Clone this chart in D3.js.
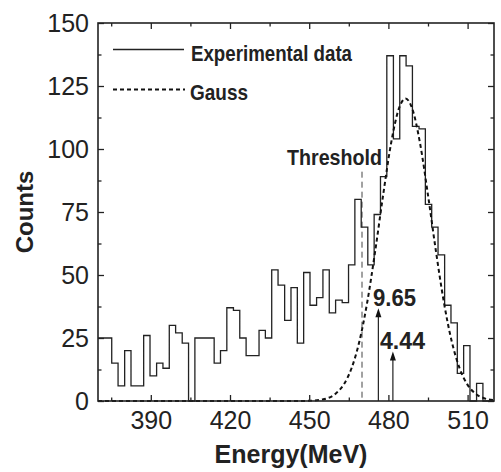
<!DOCTYPE html>
<html>
<head>
<meta charset="utf-8">
<script src="https://cdn.jsdelivr.net/npm/d3@7"></script>
<style>
  body { margin: 0; background: #fff; }
  svg { display: block; font-family: "Liberation Sans", Arial, sans-serif; }
</style>
</head>
<body>
<script>
//Histogram of counts against energy, with a gauss fit and a threshold line

//Declares Global variables
var W = 501;
var H = 472;
var Left = 98, Top = 23, Right = 494, Bottom = 401;

//Lower bin edges (MeV) of the histogram, and the counts in each bin
var binEdges = [367.9, 370.4, 372.8, 375.2, 377.6, 380.1, 382.5, 384.9, 387.3, 389.7,
  392.2, 394.6, 397.0, 399.4, 401.9, 404.3, 406.7, 409.1, 411.6, 414.0,
  416.4, 418.8, 421.3, 423.7, 426.1, 428.5, 431.0, 433.4, 435.8, 438.2,
  440.7, 443.1, 445.5, 447.9, 450.3, 452.8, 455.2, 457.6, 460.0, 462.5,
  464.9, 467.3, 469.7, 472.2, 474.6, 477.0, 479.4, 481.9, 484.3, 486.7,
  489.1, 491.6, 494.0, 496.4, 498.8, 501.3, 503.7, 506.1, 508.5, 510.9,
  513.4, 515.8, 518.2, 520.6];
var counts = [25, 25, 25, 15, 6, 20, 6, 6, 26, 10,
  15, 13, 30, 27, 23, 0, 25, 25, 25, 15,
  20, 37, 36, 25, 18, 18, 28, 25, 52, 46,
  32, 45, 23, 51, 38, 41, 52, 35, 40, 39,
  54, 80, 69, 54, 74, 89, 137, 104, 137, 133,
  109, 108, 78, 69, 58, 38, 31, 11, 22, 0,
  7, 0, 0];

//Gauss curve
var gaussE = [370, 440, 445, 450, 455, 460, 463, 466, 469, 472, 475, 478, 481, 484, 486.5,
  489, 492, 495, 498, 501, 504, 507, 510, 513, 516, 520];
var gaussCounts = [0, 0, 0, 0.1, 0.6, 2.9, 6.4, 12.9, 23.6, 39.3, 59.5, 81.7, 102.2, 116.1, 120,
  116.1, 102.2, 81.7, 59.5, 39.3, 23.6, 12.9, 6.4, 2.9, 1.2, 0.3];

//Threshold and the two marked energies
var thresholdE = 470;
var thresholdTop = 91;
var markE = [476.2, 481.7];
var markTop = [36.8, 19.6];
var markLabels = ["9.65", "4.44"];

var xTicks = [390, 420, 450, 480, 510];
var xMinor = [375, 405, 435, 465, 495];
var yTicks = [0, 25, 50, 75, 100, 125, 150];
var yMinor = [12.5, 37.5, 62.5, 87.5, 112.5, 137.5];

var legendNames = ["Experimental data", "Gauss"];

function makeSVG(svgLocation) {
  //Creates svg and returns it
  var svg = d3.select(svgLocation)
        .append("svg")
        .attr("width", W)
        .attr("height", H);
  return svg;
}

function addLabel(svg, x, y, size, width, txt) {
  //Bold label squeezed to the width it has in the picture
  svg.append("text")
    .attr("x", x)
    .attr("y", y)
    .attr("font-weight", "bold")
    .attr("font-size", size)
    .attr("fill", "#222")
    .attr("textLength", width)
    .attr("lengthAdjust", "spacingAndGlyphs")
    .text(txt);
}

function drawAxes(svg, xScale, yScale) {
  //Major and minor ticks on all four sides, pointing inward
  var ink = "#222";
  var axes = [
    [d3.axisBottom(xScale).tickValues(xTicks).tickSize(-6).tickPadding(10), "translate(0," + Bottom + ")", true],
    [d3.axisBottom(xScale).tickValues(xMinor).tickSize(-3.5).tickFormat(""), "translate(0," + Bottom + ")", false],
    [d3.axisTop(xScale).tickValues(xTicks).tickSize(-6).tickFormat(""), "translate(0," + Top + ")", false],
    [d3.axisTop(xScale).tickValues(xMinor).tickSize(-3.5).tickFormat(""), "translate(0," + Top + ")", false],
    [d3.axisLeft(yScale).tickValues(yTicks).tickSize(-6).tickPadding(9), "translate(" + Left + ",0)", true],
    [d3.axisLeft(yScale).tickValues(yMinor).tickSize(-3.5).tickFormat(""), "translate(" + Left + ",0)", false],
    [d3.axisRight(yScale).tickValues(yTicks).tickSize(-6).tickFormat(""), "translate(" + Right + ",0)", false],
    [d3.axisRight(yScale).tickValues(yMinor).tickSize(-3.5).tickFormat(""), "translate(" + Right + ",0)", false]
  ];
  axes.forEach(function(a) {
    var g = svg.append("g").attr("transform", a[1]).call(a[0]);
    g.select(".domain").remove();
    g.selectAll("line").attr("stroke", ink).attr("stroke-width", 1.3);
    if (a[2]) {
      g.selectAll("text")
        .attr("fill", ink)
        .style("font-size", "25px")
        .style("font-family", "'Liberation Sans', Arial, sans-serif");
    }
  });

  svg.append("rect")
    .attr("x", Left)
    .attr("y", Top)
    .attr("width", Right - Left)
    .attr("height", Bottom - Top)
    .attr("fill", "none")
    .attr("stroke", ink)
    .attr("stroke-width", 1.6);

  svg.append("text")
    .attr("x", 291)
    .attr("y", 463)
    .attr("text-anchor", "middle")
    .attr("font-weight", "bold")
    .attr("font-size", 25)
    .attr("fill", ink)
    .text("Energy(MeV)");

  svg.append("text")
    .attr("transform", "translate(33," + ((Top + Bottom) / 2) + ") rotate(-90)")
    .attr("text-anchor", "middle")
    .attr("font-weight", "bold")
    .attr("font-size", 24)
    .attr("fill", ink)
    .text("Counts");
}

function main() {
  var svg = makeSVG("body");
  var xScale = d3.scaleLinear().domain([370, 520]).range([Left, Right]);
  var yScale = d3.scaleLinear().domain([0, 150]).range([Bottom, Top]);

  svg.append("clipPath").attr("id", "plot")
    .append("rect")
    .attr("x", Left).attr("y", Top - 2)
    .attr("width", Right - Left).attr("height", Bottom - Top + 4);

  var plot = svg.append("g").attr("clip-path", "url(#plot)");

  //Threshold line
  plot.append("line")
    .attr("x1", xScale(thresholdE)).attr("x2", xScale(thresholdE))
    .attr("y1", yScale(thresholdTop)).attr("y2", yScale(0))
    .attr("stroke", "#444")
    .attr("stroke-width", 1)
    .attr("stroke-dasharray", "6,4");

  //Histogram as a step outline
  var steps = counts.map(function(c, i) { return [binEdges[i], c]; });
  steps.push([binEdges[counts.length], counts[counts.length - 1]]);
  var step = d3.line()
    .x(function(d) { return xScale(d[0]); })
    .y(function(d) { return yScale(d[1]); })
    .curve(d3.curveStepAfter);
  plot.append("path")
    .attr("d", step(steps))
    .attr("fill", "none")
    .attr("stroke", "#222")
    .attr("stroke-width", 1.3);

  //Gauss fit
  var gauss = d3.line()
    .x(function(d, i) { return xScale(gaussE[i]); })
    .y(function(d) { return yScale(d); })
    .curve(d3.curveMonotoneX);
  plot.append("path")
    .attr("d", gauss(gaussCounts))
    .attr("fill", "none")
    .attr("stroke", "#111")
    .attr("stroke-width", 2)
    .attr("stroke-dasharray", "4,3");

  //Arrows with their numbers
  markE.forEach(function(e, i) {
    var x = xScale(e), y = yScale(markTop[i]);
    svg.append("line")
      .attr("x1", x).attr("x2", x)
      .attr("y1", yScale(0)).attr("y2", y + 6)
      .attr("stroke", "#222").attr("stroke-width", 1.2);
    svg.append("path")
      .attr("d", "M" + x + "," + y + "L" + (x - 3) + "," + (y + 9) + "L" + (x + 3) + "," + (y + 9) + "Z")
      .attr("fill", "#111");
  });
  addLabel(svg, 373, 306, 23, 43, markLabels[0]);
  addLabel(svg, 380, 349, 23, 45, markLabels[1]);

  addLabel(svg, 287, 165, 22, 95, "Threshold");

  //Legend
  svg.append("line").attr("x1", 113).attr("x2", 184).attr("y1", 49.5).attr("y2", 49.5)
    .attr("stroke", "#222").attr("stroke-width", 1.3);
  svg.append("line").attr("x1", 113).attr("x2", 185).attr("y1", 89.5).attr("y2", 89.5)
    .attr("stroke", "#111").attr("stroke-width", 2).attr("stroke-dasharray", "4,3");
  addLabel(svg, 191, 61, 22, 161, legendNames[0]);
  addLabel(svg, 190, 100, 22, 58, legendNames[1]);

  drawAxes(svg, xScale, yScale);
}

main();
</script>
</body>
</html>
